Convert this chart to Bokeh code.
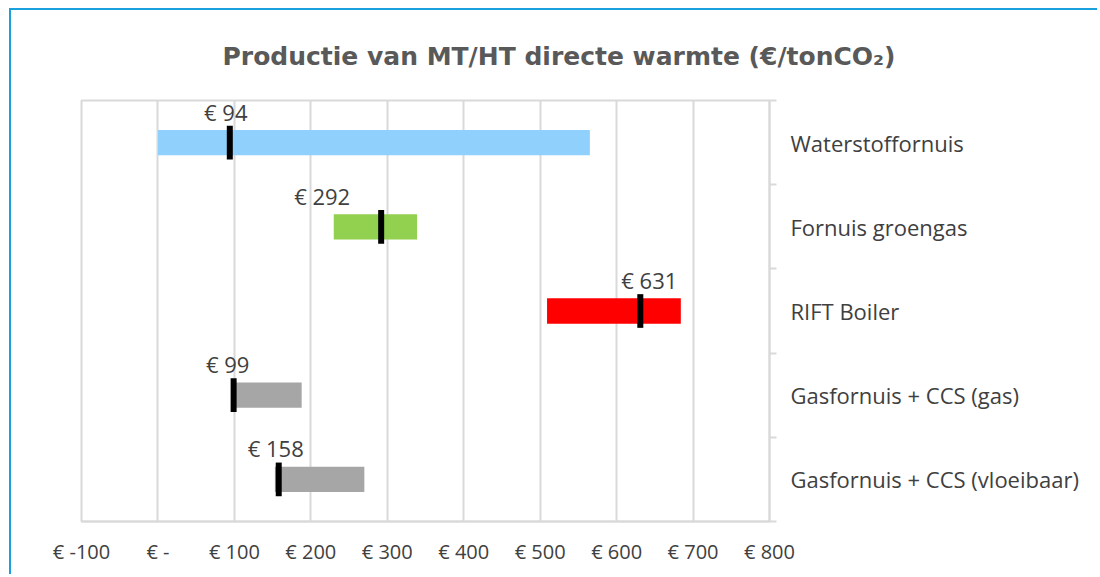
from bokeh.plotting import figure
from bokeh.models import Range1d, FixedTicker, LinearAxis, ColumnDataSource
from bokeh.core.properties import value
from bokeh.embed import file_html
from bokeh.resources import INLINE

# ---- data ----
categories = ["Waterstoffornuis", "Fornuis groengas", "RIFT Boiler",
              "Gasfornuis + CCS (gas)", "Gasfornuis + CCS (vloeibaar)"]
low = [0, 230, 509, 100, 153]
high = [565, 339, 684, 188, 270]
central = [94, 292, 631, 99, 158]
colors = ["#8fd1fc", "#92d050", "#ff0000", "#a6a6a6", "#a6a6a6"]
x_ticks = [-100, 0, 100, 200, 300, 400, 500, 600, 700, 800]
x_tick_labels = ["€ -100", "€ -", "€ 100", "€ 200", "€ 300", "€ 400",
                 "€ 500", "€ 600", "€ 700", "€ 800"]
title_text = "Productie van MT/HT directe warmte (€/tonCO₂)"

FONT = "Open Sans"
TXT = "#404040"
GRID = "#d9d9d9"

ypos = [i + 0.5 for i in range(len(categories))]
label_dx = [-4, -59, 9, -6, -3]  # pixel offsets of value labels

W, H = 1088, 566
p = figure(width=W, height=H, output_backend="svg", toolbar_location=None,
           x_range=Range1d(-100, 800), y_range=Range1d(len(categories), 0),
           y_axis_location=None, min_border_left=70, min_border_right=330,
           min_border_top=90, min_border_bottom=55,
           styles={"margin-left": "9px", "margin-top": "8px",
                   "border-top": "2px solid #1aa0dc", "border-left": "2px solid #1aa0dc"})
p.outline_line_color = GRID
p.outline_line_width = 2
p.background_fill_color = "white"
p.border_fill_color = "white"

# title
p.title.text = title_text
p.title.align = "left"
p.title.offset = 141
p.title.standoff = 59
p.title.text_font = "DejaVu Sans"
p.title.text_font_size = "25px"
p.title.text_font_style = "bold"
p.title.text_color = "#595959"

# x axis
xa = p.xaxis[0]
xa.ticker = FixedTicker(ticks=x_ticks)
xa.major_label_overrides = {t: l for t, l in zip(x_ticks, x_tick_labels)}
xa.axis_line_color = GRID
xa.axis_line_width = 2
xa.major_tick_line_color = None
xa.major_tick_out = 0
xa.minor_tick_line_color = None
xa.major_label_standoff = 16
xa.major_label_text_font = FONT
xa.major_label_text_font_size = "20px"
xa.major_label_text_color = TXT

p.xgrid.ticker = FixedTicker(ticks=x_ticks)
p.xgrid.grid_line_color = GRID
p.xgrid.grid_line_width = 2
p.ygrid.grid_line_color = None

# right category axis
ya = LinearAxis(ticker=FixedTicker(ticks=ypos, minor_ticks=list(range(len(categories) + 1))))
ya.major_label_overrides = {y: c for y, c in zip(ypos, categories)}
ya.axis_line_color = GRID
ya.axis_line_width = 2
ya.major_tick_line_color = None
ya.major_tick_out = 0
ya.minor_tick_line_color = GRID
ya.minor_tick_line_width = 2
ya.minor_tick_out = 7
ya.minor_tick_in = 0
ya.major_label_standoff = 14
ya.major_label_text_font = FONT
ya.major_label_text_font_size = "22px"
ya.major_label_text_color = TXT
ya.major_label_text_align = "left"
p.add_layout(ya, "right")

src = ColumnDataSource(dict(y=ypos, low=low, high=high, c=colors, central=central,
                            lab=[f"€ {v}" for v in central], dx=label_dx))
p.hbar(y="y", left="low", right="high", height=0.3, fill_color="c", line_color=None, source=src)
p.rect(x="central", y="y", width=6, width_units="screen", height=0.4,
       fill_color="black", line_color=None, source=src)
p.text(x="central", y="y", text="lab", x_offset="dx", y_offset=-31, source=src,
       text_align="center", text_baseline="middle", text_font=value(FONT),
       text_font_size="22px", text_color=TXT)

open("out.html", "w").write(file_html(p, INLINE))
